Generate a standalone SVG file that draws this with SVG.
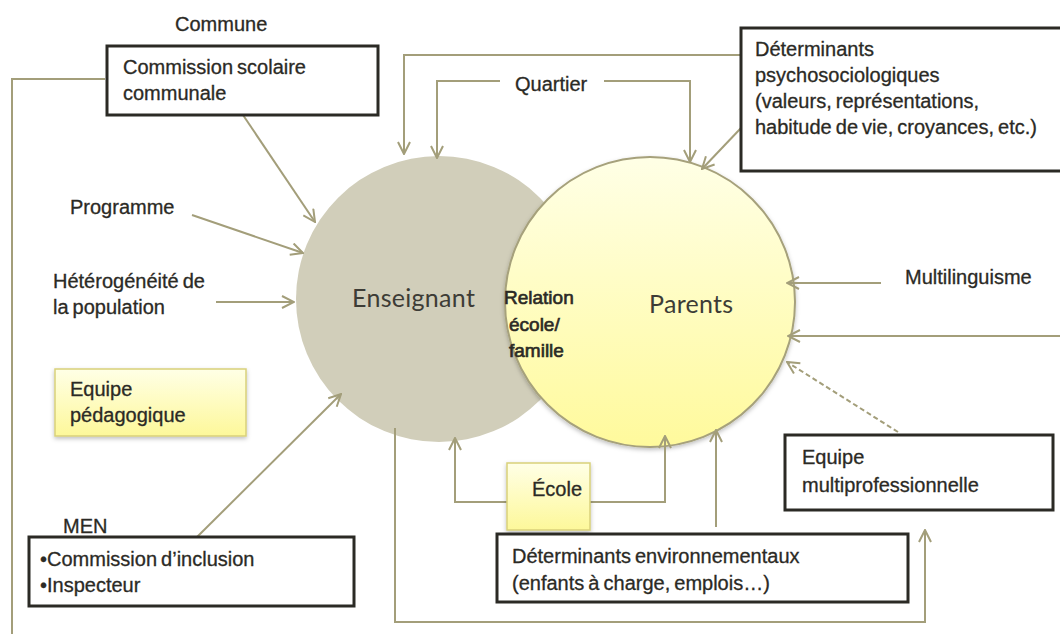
<svg xmlns="http://www.w3.org/2000/svg" width="1060" height="644" viewBox="0 0 1060 644">
  <defs>
    <style>
      .t { font-family: "Liberation Sans", Arial, sans-serif; font-size: 20px; fill: #2b2a25; stroke: #2b2a25; stroke-width: 0.3; word-spacing: -1.5px; }
      .big { font-family: "Lato", "Liberation Sans", sans-serif; font-size: 25px; font-weight: 400; fill: #3d3c36; letter-spacing: 0.3px; }
      .rel { font-family: "Liberation Sans", Arial, sans-serif; font-size: 19px; fill: #2b2a25; stroke: #2b2a25; stroke-width: 0.65; }
      .box { fill: #ffffff; stroke: #2b2a25; stroke-width: 3; }
      .ybox { fill: url(#yel); stroke: #d9d17a; stroke-width: 1.5; filter: url(#sh); }
      .ln { fill: none; stroke: #a39e7a; stroke-width: 2; }
      .arr { marker-end: url(#ah); }
      .dash { stroke-dasharray: 5 3; }
    </style>
    <marker id="ah" viewBox="0 0 14 14" refX="13" refY="7" markerWidth="14" markerHeight="14" markerUnits="userSpaceOnUse" orient="auto">
      <path d="M1,1 L13,7 L1,13" fill="none" stroke="#a39e7a" stroke-width="2"/>
    </marker>
    <linearGradient id="yel" x1="0" y1="0" x2="0" y2="1">
      <stop offset="0" stop-color="#ffffe6"/>
      <stop offset="1" stop-color="#fdf89a"/>
    </linearGradient>
    <linearGradient id="par" x1="0" y1="0" x2="0" y2="1">
      <stop offset="0" stop-color="#ffffe6"/>
      <stop offset="1" stop-color="#fffa9c"/>
    </linearGradient>
    <filter id="sh" x="-10%" y="-10%" width="130%" height="140%">
      <feDropShadow dx="0" dy="2" stdDeviation="2" flood-color="#000" flood-opacity="0.25"/>
    </filter>
  </defs>

  <!-- central actors -->
  <g id="enseignant">
    <circle cx="439" cy="299" r="143" fill="#d1ceba"/>
    <text class="big" x="352" y="307">Enseignant</text>
  </g>
  <g id="parents">
    <circle cx="650" cy="302" r="145" fill="url(#par)" stroke="#a6a17b" stroke-width="2" filter="url(#sh)"/>
    <text class="big" x="649" y="313">Parents</text>
  </g>
  <g id="relation">
    <text class="rel" x="504" y="304">Relation</text>
    <text class="rel" x="509" y="331">école/</text>
    <text class="rel" x="509" y="357">famille</text>
  </g>

  <!-- connectors -->
  <g id="connectors">
    <path class="ln" d="M105,79 H12 V634"/>
    <path class="ln arr" d="M243,115 L315,222"/>
    <path class="ln arr" d="M192,215 L303,253"/>
    <path class="ln arr" d="M216,302 L294,302"/>
    <path class="ln arr" d="M197,537 L341,394"/>
    <path class="ln arr" d="M395,428 V622 H925 V530"/>
    <path class="ln arr" d="M507,502 H455 V438"/>
    <path class="ln arr" d="M590,502 H665 V436"/>
    <path class="ln arr" d="M716,527 V430"/>
    <path class="ln arr dash" d="M898,432 L787,362"/>
    <path class="ln arr" d="M881,283 H787"/>
    <path class="ln arr" d="M1060,336 H788"/>
    <path class="ln arr" d="M741,55 H404 V154"/>
    <path class="ln arr" d="M500,81 H437 V158"/>
    <path class="ln arr" d="M604,81 H690 V162"/>
    <path class="ln arr" d="M741,128 L702,169"/>
  </g>

  <!-- surrounding factors -->
  <g id="commune">
    <text class="t" x="175" y="31">Commune</text>
  </g>
  <g id="commission-scolaire">
    <rect class="box" x="107" y="46" width="271" height="69"/>
    <text class="t" x="123" y="74">Commission scolaire</text>
    <text class="t" x="123" y="100">communale</text>
  </g>
  <g id="programme">
    <text class="t" x="70" y="214">Programme</text>
  </g>
  <g id="heterogeneite">
    <text class="t" x="53" y="288">Hétérogénéité de</text>
    <text class="t" x="53" y="314">la population</text>
  </g>
  <g id="equipe-pedagogique">
    <rect class="ybox" x="55" y="369" width="191" height="67"/>
    <text class="t" x="70" y="396">Equipe</text>
    <text class="t" x="70" y="422">pédagogique</text>
  </g>
  <g id="men">
    <text class="t" x="63" y="533">MEN</text>
    <rect class="box" x="29" y="537" width="325" height="69"/>
    <text class="t" x="40" y="566">•Commission d’inclusion</text>
    <text class="t" x="40" y="592">•Inspecteur</text>
  </g>
  <g id="quartier">
    <text class="t" x="515" y="91">Quartier</text>
  </g>
  <g id="determinants-psycho">
    <rect class="box" x="741" y="28" width="321" height="143"/>
    <text class="t" x="755" y="56">Déterminants</text>
    <text class="t" x="755" y="82">psychosociologiques</text>
    <text class="t" x="755" y="108">(valeurs, représentations,</text>
    <text class="t" x="755" y="134">habitude de vie, croyances, etc.)</text>
  </g>
  <g id="multilinguisme">
    <text class="t" x="905" y="284">Multilinguisme</text>
  </g>
  <g id="ecole">
    <rect class="ybox" x="507" y="463" width="83" height="67"/>
    <text class="t" x="532" y="496">École</text>
  </g>
  <g id="determinants-env">
    <rect class="box" x="497" y="534" width="411" height="68"/>
    <text class="t" x="512" y="563">Déterminants environnementaux</text>
    <text class="t" x="512" y="590">(enfants à charge, emplois…)</text>
  </g>
  <g id="equipe-multipro">
    <rect class="box" x="785" y="435" width="268" height="75"/>
    <text class="t" x="802" y="464">Equipe</text>
    <text class="t" x="802" y="492">multiprofessionnelle</text>
  </g>
</svg>
